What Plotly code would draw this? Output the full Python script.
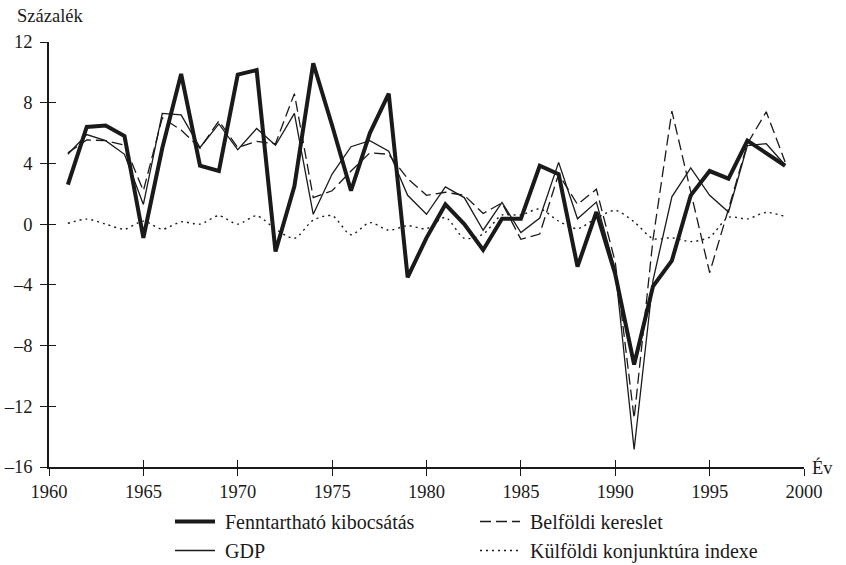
import plotly.graph_objects as go

years = list(range(1961, 2000))

fenntarthato = [2.6, 6.4, 6.5, 5.8, -0.9, 5.0, 9.9, 3.85, 3.5, 9.85,
                10.15, -1.8, 2.5, 10.6, 6.5, 2.2, 6.0, 8.6, -3.5, -0.9,
                1.3, 0.0, -1.7, 0.35, 0.35, 3.85, 3.3, -2.8, 0.8, -3.3,
                -9.25, -4.1, -2.4, 1.9, 3.5, 3.0, 5.5, 4.7, 3.85]

gdp = [4.6, 5.9, 5.5, 4.6, 1.3, 7.3, 7.2, 5.05, 6.6, 4.9,
       6.3, 5.2, 7.3, 0.65, 3.3, 5.1, 5.5, 4.8, 1.9, 0.65,
       2.45, 1.75, -0.4, 1.43, -0.55, 0.4, 4.07, 0.35, 1.45, -3.0,
       -14.85, -3.7, 1.8, 3.7, 1.9, 0.8, 5.17, 5.3, 3.9]

belfoldi = [4.7, 5.55, 5.5, 5.2, 2.2, 7.0, 6.2, 5.0, 6.8, 5.05,
            5.45, 5.3, 8.6, 1.75, 2.2, 3.5, 4.7, 4.6, 3.0, 1.9,
            2.1, 1.9, 0.7, 1.4, -1.0, -0.65, 3.3, 1.3, 2.3, -2.5,
            -12.8, -1.0, 7.45, 2.2, -3.2, 1.0, 5.3, 7.4, 4.1]

kulfoldi = [0.05, 0.33, 0.0, -0.33, 0.2, -0.33, 0.15, 0.0, 0.55, 0.0,
            0.55, -0.33, -0.93, 0.26, 0.55, -0.7, 0.1, -0.4, -0.1, -0.3,
            0.44, -0.93, -0.66, 0.6, 0.6, 1.0, 0.2, -0.3, 0.4, 0.9,
            0.15, -0.95, -0.9, -1.15, -0.85, 0.45, 0.35, 0.77, 0.5]

x_ticks = [1960, 1965, 1970, 1975, 1980, 1985, 1990, 1995, 2000]
y_ticks = [12, 8, 4, 0, -4, -8, -12, -16]
y_ticktext = ["12", "8", "4", "0", "–4", "–8", "–12", "–16"]

INK = "#1a1a1a"
FONT = "Liberation Serif, Times New Roman, serif"
NB = "\u00a0"

L, R, T, B = 49, 42, 42, 98
PW = 846 - L - R
PH = 565 - T - B

fig = go.Figure()
fig.add_trace(go.Scatter(x=years, y=fenntarthato, mode="lines",
                         name=NB + "Fenntartható kibocsátás",
                         line=dict(color=INK, width=4)))
fig.add_trace(go.Scatter(x=years, y=belfoldi, mode="lines",
                         name=NB + "Belföldi kereslet",
                         line=dict(color=INK, width=1.3, dash="11px,5px")))
fig.add_trace(go.Scatter(x=years, y=gdp, mode="lines", name=NB + "GDP",
                         line=dict(color=INK, width=1.3)))
fig.add_trace(go.Scatter(x=years, y=kulfoldi, mode="lines",
                         name=NB + "Külföldi konjunktúra indexe",
                         line=dict(color=INK, width=1.4, dash="2px,4px",
                                   shape="spline", smoothing=0.8)))
# invisible helper trace for the inner half of the crossing ticks
fig.add_trace(go.Scatter(x=[1960], y=[0], xaxis="x2", yaxis="y2",
                         mode="markers", marker=dict(opacity=0),
                         showlegend=False, hoverinfo="skip"))

common = dict(showgrid=False, zeroline=False, linecolor=INK,
              tickcolor=INK, tickwidth=1.3, ticklen=7, automargin=False,
              tickfont=dict(family=FONT, size=18.5, color=INK))

fig.update_layout(
    width=846, height=565,
    margin=dict(l=L, r=R, t=T, b=B, autoexpand=False),
    paper_bgcolor="white", plot_bgcolor="white",
    font=dict(family=FONT, size=18.5, color=INK),
    xaxis=dict(range=[1960, 2000], tickvals=x_ticks, ticks="outside",
               showline=True, linewidth=1.5, **common),
    yaxis=dict(range=[-16, 12], tickvals=y_ticks, ticktext=y_ticktext,
               ticks="outside", showline=True, linewidth=1.5,
               ticklabelstandoff=4, **common),
    xaxis2=dict(range=[1960, 2000], tickvals=x_ticks, ticks="inside",
                overlaying="x", matches="x", anchor="y2",
                showticklabels=False, showline=False, **common),
    yaxis2=dict(range=[-16, 12], tickvals=y_ticks, ticks="inside",
                overlaying="y", matches="y", anchor="x2",
                showticklabels=False, showline=False, **common),
    showlegend=True,
    legend=dict(orientation="h", x=(170 - L) / PW, xanchor="left",
                y=-(502 - (T + PH)) / PH, yanchor="top",
                entrywidth=250, entrywidthmode="pixels",
                font=dict(family=FONT, size=20, color=INK),
                itemwidth=40, tracegroupgap=0,
                bgcolor="rgba(0,0,0,0)"),
    annotations=[
        dict(text="Százalék", xref="paper", yref="paper",
             x=-(L - 15) / PW, y=1 + (T - 16) / PH, xanchor="left",
             yanchor="middle", showarrow=False,
             font=dict(family=FONT, size=18.5, color=INK)),
        dict(text="Év", xref="paper", yref="paper",
             x=1 + 6 / PW, y=0.0, xanchor="left", yanchor="middle",
             showarrow=False,
             font=dict(family=FONT, size=18.5, color=INK)),
    ],
)

fig.write_html(
    "out.html",
    config={"displayModeBar": False},
    post_script="document.body.style.margin='0';"
                "document.body.style.overflow='hidden';",
)
